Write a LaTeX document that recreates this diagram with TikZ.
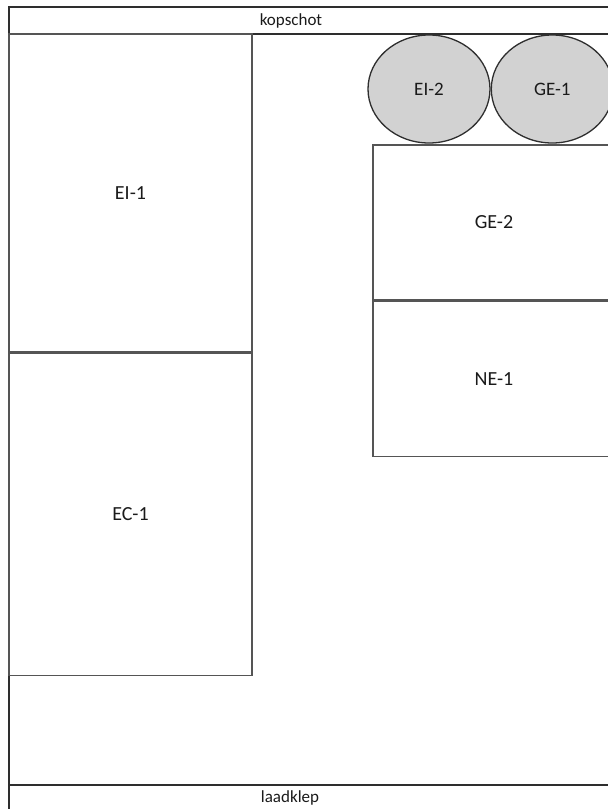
\documentclass[tikz,border=0pt]{standalone}
\usepackage{fontspec}
\setmainfont{Carlito}
\usetikzlibrary{positioning,shapes.geometric}
\definecolor{framegray}{HTML}{2E2E2E}
\definecolor{boxgray}{HTML}{555555}
\definecolor{drumfill}{HTML}{D2D2D2}
\definecolor{labelink}{HTML}{1A1A1A}
\tikzset{
  cargobox/.style={draw=boxgray, line width=1.4pt, rectangle, inner sep=0pt,
                   text=labelink, font=\fontsize{20}{22}\selectfont},
  drum/.style={draw=framegray, line width=1.3pt, fill=drumfill, ellipse,
               inner sep=0pt, minimum width=122pt, minimum height=108pt,
               text=labelink, font=\fontsize{19}{21}\selectfont},
  bandlbl/.style={text=labelink, font=\fontsize{17}{19}\selectfont, inner sep=0pt},
  wall/.style={draw=framegray, line width=2.4pt}}

\begin{document}
\begin{tikzpicture}[x=1pt, y=-1pt]
    \useasboundingbox (0,0) rectangle (608,809);
    \clip (0,0) rectangle (608,809);
    % trailer outline, front wall and tailgate bands
    \draw[wall] (9,7) rectangle (640,840);
    \draw[wall] (9,34) -- (640,34);
    \draw[wall] (9,785) -- (640,785);
    \node[bandlbl] (kop) at (291,21) {kopschot};
    \node[bandlbl] (laad) at (290,798) {laadklep};
    % load on the left side
    \node[cargobox, minimum width=243pt, minimum height=318pt] (ei1) at (130.5,193) {EI-1};
    \node[cargobox, minimum width=243pt, minimum height=322pt, below=0pt of ei1] (ec1) {EC-1};
    % drums against the front wall
    \node[drum] (ei2) at (429,89) {EI-2};
    \node[drum, right=0pt of ei2] (ge1) {GE-1};
    % load on the right side
    \node[cargobox, minimum width=242pt, minimum height=155pt] (ge2) at (494,222.5) {GE-2};
    \node[cargobox, minimum width=242pt, minimum height=155pt, below=0pt of ge2] (ne1) {NE-1};
\end{tikzpicture}
\end{document}
